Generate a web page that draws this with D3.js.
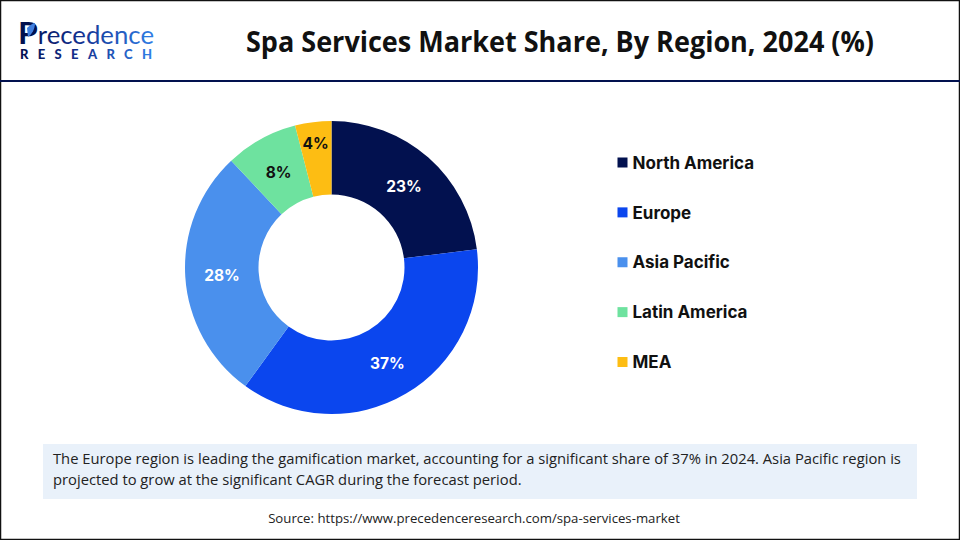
<!DOCTYPE html>
<html>
<head>
<meta charset="utf-8">
<title>Spa Services Market Share, By Region, 2024 (%)</title>
<script src="https://cdn.jsdelivr.net/npm/d3@7/dist/d3.min.js"></script>
<style>
  html, body { margin: 0; padding: 0; background: #fff; }
  svg { display: block; }
</style>
</head>
<body>
<script>
var regions = ["North America", "Europe", "Asia Pacific", "Latin America", "MEA"];
var shares = [23, 37, 28, 8, 4];
var colors = ["#02114f", "#0b46ee", "#4a90ed", "#6ee29f", "#fdbd13"];
var titleText = "Spa Services Market Share, By Region, 2024 (%)";
var noteLines = [
  "The Europe region is leading the gamification market, accounting for a significant share of 37% in 2024. Asia Pacific region is",
  "projected to grow at the significant CAGR during the forecast period."
];
var sourceText = "Source: https://www.precedenceresearch.com/spa-services-market";

var width = 960, height = 540;
var svg = d3.select("body").append("svg")
  .attr("width", width)
  .attr("height", height);

var grad = svg.append("defs").append("linearGradient").attr("id", "logoGrad");
grad.append("stop").attr("offset", "0%").attr("stop-color", "#02114f");
grad.append("stop").attr("offset", "45%").attr("stop-color", "#12308f");
grad.append("stop").attr("offset", "100%").attr("stop-color", "#2f7fe6");

// frame and header rule
svg.append("rect").attr("x", 0.5).attr("y", 0.5)
  .attr("width", width - 1).attr("height", height - 1)
  .attr("fill", "#fff").attr("stroke", "#111").attr("stroke-width", 1.5);
svg.append("rect").attr("x", 0).attr("y", 80).attr("width", width).attr("height", 2)
  .attr("fill", "#02114f");

// logo, as text
var logo = svg.append("g").attr("font-family", "Lato, sans-serif");
var logoWord = logo.append("text").attr("x", 18).attr("y", 44)
  .attr("textLength", 136).attr("lengthAdjust", "spacingAndGlyphs")
  .attr("font-size", 25).attr("fill", "url(#logoGrad)");
logoWord.append("tspan").attr("font-size", 31).attr("font-weight", 700).attr("fill", "#02114f").text("P");
logoWord.append("tspan").text("recedence");
logo.append("path").attr("d", "M27 28 C30 25 33 23 35 23 C35 29 32 34 28 37 Z").attr("fill", "#3f7fe0");
logo.append("text").attr("x", 20).attr("y", 58.5)
  .attr("font-size", 13).attr("font-weight", 900).attr("fill", "url(#logoGrad)")
  .attr("textLength", 132).text("RESEARCH");

svg.append("text").attr("x", 560).attr("y", 52)
  .attr("text-anchor", "middle")
  .attr("font-family", "'Open Sans', sans-serif")
  .attr("font-size", 28).attr("font-weight", 700).attr("fill", "#111")
  .attr("textLength", 628).attr("lengthAdjust", "spacingAndGlyphs")
  .text(titleText);

// donut
var pie = d3.pie().sort(null).value(function(d) { return d; });
var arc = d3.arc().innerRadius(73).outerRadius(146.5);
var arcs = pie(shares);
var donut = svg.append("g").attr("transform", "translate(331.5,267.5)");
donut.selectAll("path").data(arcs).enter().append("path")
  .attr("d", arc)
  .attr("fill", function(d, i) { return colors[i]; });

// the thinnest slice carries its label further out, so it fits
var thinArc = d3.arc().innerRadius(107).outerRadius(146.5);
donut.selectAll("text").data(arcs).enter().append("text")
  .attr("transform", function(d) {
    var c = (d.data < 5 ? thinArc : arc).centroid(d);
    return "translate(" + c[0] + "," + (c[1] + 1.5) + ")";
  })
  .attr("text-anchor", "middle")
  .attr("dy", "0.36em")
  .attr("font-family", "Inter, sans-serif")
  .attr("font-size", 15.5).attr("font-weight", 700)
  .attr("fill", function(d, i) { return i < 3 ? "#fff" : "#111"; })
  .text(function(d) { return d.data + "%"; });

// legend
var legendY = d3.scalePoint().domain(regions).range([162.5, 362]);
var legend = svg.append("g").selectAll("g").data(regions).enter().append("g")
  .attr("transform", function(d) { return "translate(617.5," + legendY(d) + ")"; });
legend.append("rect").attr("x", 0).attr("y", -5).attr("width", 10).attr("height", 10)
  .attr("fill", function(d, i) { return colors[i]; });
legend.append("text").attr("x", 15).attr("dy", "0.36em")
  .attr("font-family", "Inter, sans-serif")
  .attr("font-size", 17).attr("font-weight", 700).attr("fill", "#111")
  .text(function(d) { return d; });

// note box
svg.append("rect").attr("x", 43).attr("y", 444).attr("width", 874).attr("height", 55)
  .attr("fill", "#e9f1fa");
svg.append("g").selectAll("text").data(noteLines).enter().append("text")
  .attr("x", 53)
  .attr("y", function(d, i) { return 463.5 + i * 21; })
  .attr("font-family", "'Open Sans', sans-serif")
  .attr("font-size", 14.75).attr("fill", "#222")
  .text(function(d) { return d; });

svg.append("text").attr("x", 474).attr("y", 523)
  .attr("text-anchor", "middle")
  .attr("font-family", "'Open Sans', sans-serif")
  .attr("font-size", 13.2).attr("fill", "#222")
  .text(sourceText);
</script>
</body>
</html>
